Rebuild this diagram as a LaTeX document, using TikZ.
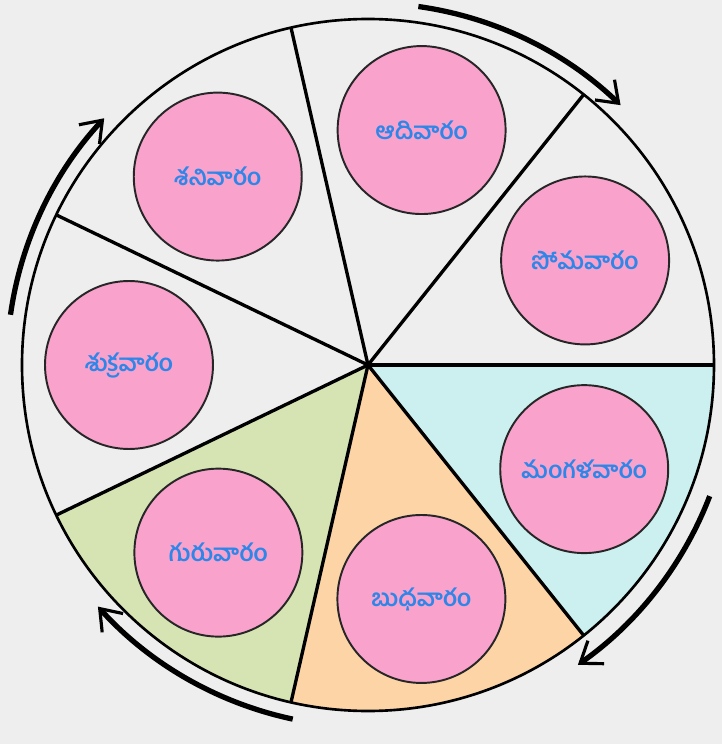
\documentclass[tikz,border=0pt]{standalone}
\usepackage{fontspec}
\newfontfamily\telugu[Script=Telugu]{Hind Guntur}
\usetikzlibrary{arrows.meta}
\definecolor{bgGrey}{HTML}{EEEEEE}
\definecolor{dayPink}{HTML}{F9A2CC}
\definecolor{dayBlue}{HTML}{2E86E8}
\definecolor{thuGreen}{HTML}{D6E3B3}
\definecolor{wedOrange}{HTML}{FCD4A6}
\definecolor{tueCyan}{HTML}{CCF0F0}
\begin{document}
\begin{tikzpicture}[x=0.02cm,y=0.02cm,
    day/.style={circle,draw=black!85,line width=1.1pt,fill=dayPink,
        minimum size=3.36cm,text=dayBlue,
        font=\telugu\bfseries\fontsize{13.5}{15}\selectfont},
    turn/.style={line width=3pt,
        -{Straight Barb[length=11pt,width=16pt,line width=1.8pt]}}]
    \fill[bgGrey] (-368,-379) rectangle (354,365);
    \useasboundingbox (-368,-379) rectangle (354,365);
    \coordinate (O) at (0,0);
    % coloured sectors
    \fill[thuGreen] (O) -- (205.714:346)
        arc[start angle=205.714,end angle=257.143,radius=346] -- cycle;
    \fill[wedOrange] (O) -- (257.143:346)
        arc[start angle=257.143,end angle=308.571,radius=346] -- cycle;
    \fill[tueCyan] (O) -- (308.571:346)
        arc[start angle=308.571,end angle=360,radius=346] -- cycle;
    \draw[line width=1.5pt] (O) circle[radius=346];
    \foreach \k in {0,...,6}
        \draw[line width=1.9pt] (O) -- ({\k*360/7}:346);
    % days
    \node[day] (mon) at (25.714:241) {సోమవారం};
    \node[day] (sun) at (77.143:241) {ఆదివారం};
    \node[day] (sat) at (128.571:241) {శనివారం};
    \node[day] (fri) at (180:239) {శుక్రవారం};
    \node[day] (thu) at (231.429:240) {గురువారం};
    \node[day] (wed) at (282.857:240) {బుధవారం};
    \node[day] (tue) at (334.286:240) {మంగళవారం};
    % direction
    \draw[turn] (82:362) arc[start angle=82,end angle=46,radius=364];
    \draw[turn] (-21:366) arc[start angle=-21,end angle=-55,radius=366];
    \draw[turn] (258:362) arc[start angle=258,end angle=222,radius=364];
    \draw[turn] (172:361) arc[start angle=172,end angle=137,radius=362];
\end{tikzpicture}
\end{document}
